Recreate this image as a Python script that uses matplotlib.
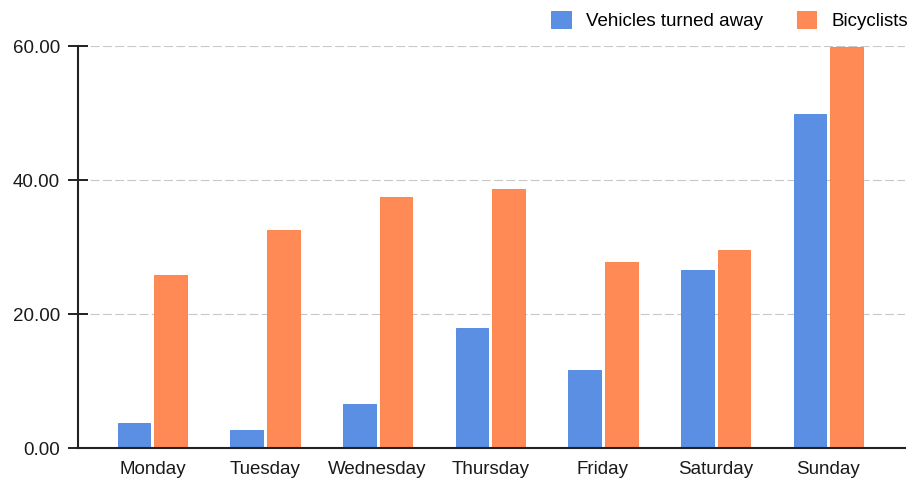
import matplotlib
matplotlib.use("Agg")
import matplotlib.pyplot as plt
import numpy as np

plt.rcParams['font.family'] = ['Liberation Sans', 'DejaVu Sans']

days = ["Monday", "Tuesday", "Wednesday", "Thursday", "Friday", "Saturday", "Sunday"]
vehicles = [3.8, 2.7, 6.6, 17.9, 11.6, 26.5, 49.8]
bicyclists = [25.8, 32.6, 37.5, 38.7, 27.7, 29.6, 59.8]
yticks = [0, 20, 40, 60]
ytick_labels = ["0.00", "20.00", "40.00", "60.00"]

blue = "#5b8fe3"
orange = "#ff8a55"

fig = plt.figure(figsize=(9.14, 4.87), dpi=100)
ax = fig.add_axes([0.0853, 0.080, 0.9047, 0.8255])

x = np.arange(len(days))
w = 0.29
gap = 0.018
ax.bar(x - w/2 - gap, vehicles, width=w, color=blue, edgecolor="#4a84e0", linewidth=0.6,
       label="Vehicles turned away", zorder=3)
ax.bar(x + w/2 + gap, bicyclists, width=w, color=orange, edgecolor="#f87d40", linewidth=0.6,
       label="Bicyclists", zorder=3)

ax.set_xlim(-0.66, 6.68)
ax.set_ylim(0, 60)
ax.set_yticks(yticks)
ax.set_yticklabels(ytick_labels, fontsize=13.5, color="#1a1a1a")
ax.set_xticks(x)
ax.set_xticklabels(days, fontsize=13.5, color="#1a1a1a")
ax.tick_params(axis='x', length=0, pad=9)
ax.tick_params(axis='y', direction='inout', length=14, width=1.4, color="#222222", pad=6)

ax.yaxis.grid(True, linestyle=(0, (8, 3)), color="#c8c8c8", linewidth=0.8, zorder=0)
ax.set_axisbelow(True)
for s in ["top", "right"]:
    ax.spines[s].set_visible(False)
for s in ["left", "bottom"]:
    ax.spines[s].set_color("#222222")
    ax.spines[s].set_linewidth(1.5)
    ax.spines[s].set_zorder(4)

leg = fig.legend(loc="upper right", bbox_to_anchor=(1.012, 1.012), ncol=2, frameon=False,
                 fontsize=13.5, handlelength=1.05, handleheight=1.05, columnspacing=1.8,
                 handletextpad=0.8)

fig.savefig("out.png", dpi=100)
